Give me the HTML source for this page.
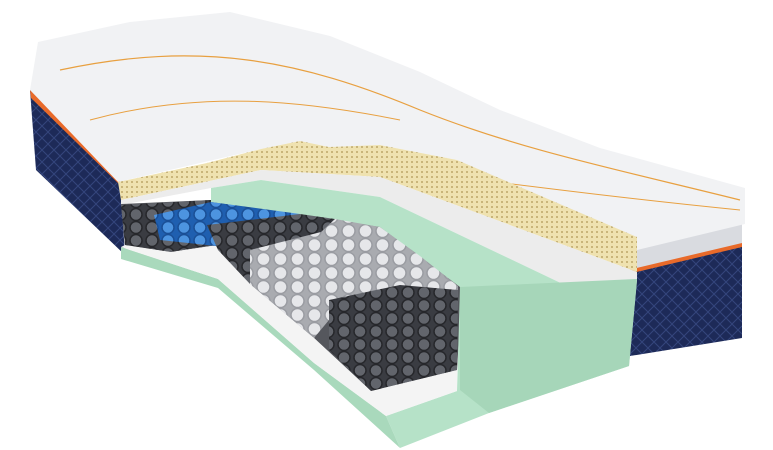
<!DOCTYPE html>
<html><head><meta charset="utf-8"><style>html,body{margin:0;padding:0;background:#fff}svg{display:block}</style></head>
<body>
<svg width="773" height="450" viewBox="0 0 773 450" xmlns="http://www.w3.org/2000/svg">
<defs>
<pattern id="pd" width="16" height="13" patternUnits="userSpaceOnUse"><rect width="16" height="13" fill="#3a3c42"/><circle cx="8" cy="6.5" r="6" fill="#62656c" stroke="#26272b" stroke-width="1.5"/></pattern>
<pattern id="pb" width="16" height="13" patternUnits="userSpaceOnUse"><rect width="16" height="13" fill="#1f5fb0"/><circle cx="8" cy="6.5" r="6" fill="#4d94e0" stroke="#1a4f96" stroke-width="1.5"/></pattern>
<pattern id="pw" width="17" height="14" patternUnits="userSpaceOnUse"><rect width="17" height="14" fill="#a9abb0"/><circle cx="8.5" cy="7" r="6.5" fill="#e6e7ea" stroke="#9a9ca2" stroke-width="1.5"/></pattern>
<pattern id="pl" width="5" height="5" patternUnits="userSpaceOnUse"><rect width="5" height="5" fill="#efe2b0"/><rect x="1" y="1" width="2" height="2" fill="#c9b57a"/></pattern>
<pattern id="pn" width="12" height="12" patternUnits="userSpaceOnUse"><rect width="12" height="12" fill="#1d2a58"/><path d="M0 0L12 12M12 0L0 12" stroke="#34457c" stroke-width="1"/></pattern>
</defs>
<polygon points="30,90 120,178 125,255 36,170" fill="url(#pn)"/>
<polygon points="30,90 120,178 121,186 31,98" fill="#e86a2a"/>
<polygon points="628,262 742,232 742,338 630,356" fill="url(#pn)"/>
<polygon points="628,248 742,222 742,245 628,272" fill="#d9dbe0"/>
<polygon points="628,270 742,243 742,247 628,274" fill="#e86a2a"/>
<polygon points="38,42 130,22 230,12 330,36 420,72 500,110 600,148 745,188 745,224 637,250 457,160 380,145 329,147 300,141 261,149 118,182 30,90" fill="#f1f2f4"/>
<path d="M60,70 C200,40 300,60 420,110 C520,150 620,170 740,200" stroke="#e8a040" stroke-width="1.2" fill="none"/>
<path d="M90,120 C200,90 300,100 400,120" stroke="#e8a040" stroke-width="1" fill="none"/>
<path d="M480,180 C560,190 640,200 740,210" stroke="#e8a040" stroke-width="1" fill="none"/>
<polygon points="118,182 207,163 261,149 300,141 329,147 380,145 457,160 637,237 637,272 380,177 261,170 121,200" fill="url(#pl)"/>
<polygon points="121,200 261,170 380,177 637,272 637,281 567,286 380,197 261,180 211,188 121,205" fill="#ececec"/>
<!-- springs cavity backing -->
<polygon points="121,204 211,200 380,225 462,288 457,370 371,391 314,338 250,284 218,245 171,252 125,245" fill="#55575d"/>
<polygon points="211,188 261,180 380,197 567,286 637,281 629,366 489,413 400,448 386,416 457,391 460,287 380,227 211,202" fill="#b6e2c8"/>
<polygon points="460,287 637,279 629,366 489,413 460,390" fill="#a6d6b9"/>
<polygon points="121,247 218,279 314,363 386,416 400,448 314,370 218,288 121,259" fill="#a9d9bc"/>
<polygon points="125,245 171,252 218,245 250,284 314,338 371,391 457,370 457,391 386,416 314,363 218,279 121,247" fill="#f4f4f4"/>
<polygon points="121,205 211,200 211,245 171,252 125,245" fill="url(#pd)"/>
<polygon points="154,215 211,202 300,214 293,249 250,250 207,245 160,240" fill="url(#pb)"/>
<polygon points="207,225 300,214 335,219 321,284 250,284 218,250" fill="url(#pd)"/>
<polygon points="250,250 321,232 335,219 380,227 420,256 458,286 457,334 329,320 314,338 250,284" fill="url(#pw)"/>
<polygon points="329,300 400,285 458,290 457,370 371,391 329,350" fill="url(#pd)"/>
</svg>
</body></html>
